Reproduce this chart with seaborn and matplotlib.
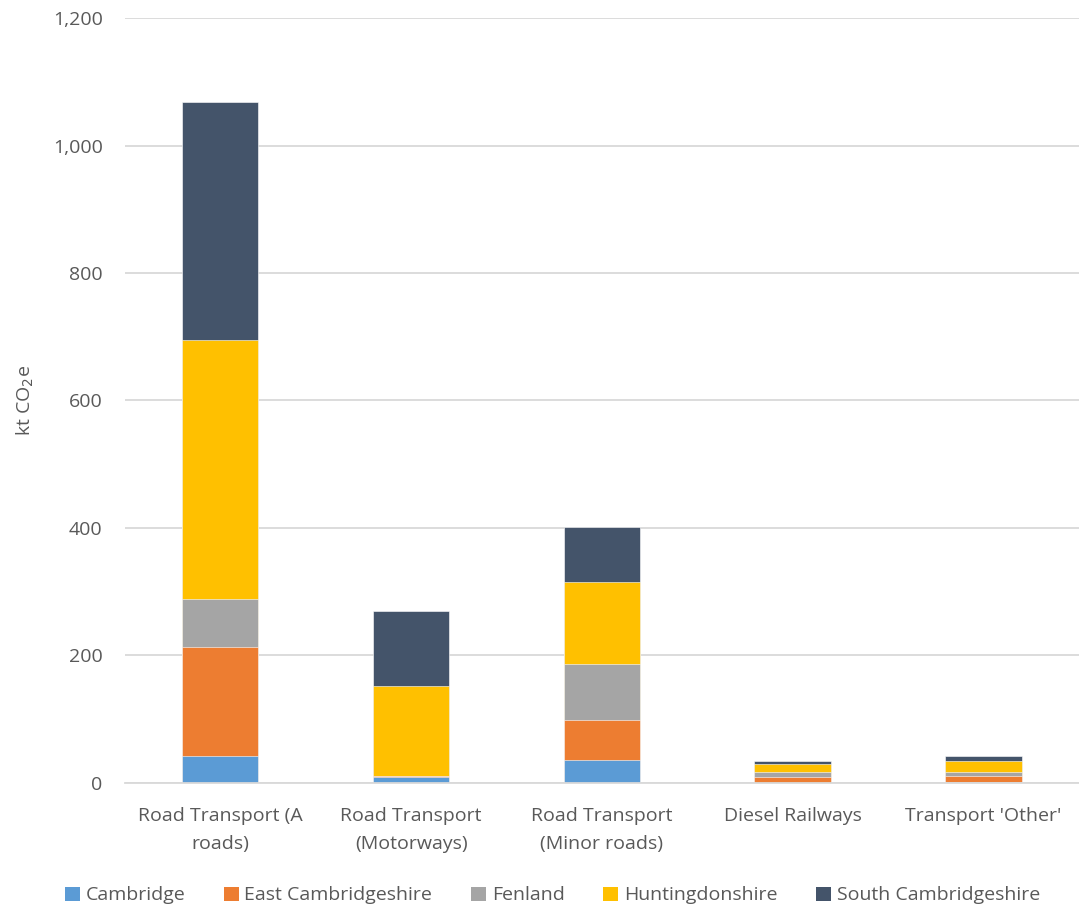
import matplotlib
matplotlib.use("Agg")
import matplotlib.pyplot as plt
import seaborn as sns
import pandas as pd
import numpy as np
from matplotlib.patches import Patch

categories = ["Road Transport (A\nroads)", "Road Transport\n(Motorways)", "Road Transport\n(Minor roads)",
              "Diesel Railways", "Transport 'Other'"]
cambridge = [43, 10, 36, 0.5, 1]
east_cambs = [170, 0.5, 63, 9, 10]
fenland = [75, 0.5, 87, 8, 6]
huntingdonshire = [407, 141, 129, 13, 17]
south_cambs = [373, 117, 86, 4, 8]

series_names = ["Cambridge", "East Cambridgeshire", "Fenland", "Huntingdonshire", "South Cambridgeshire"]
colors = ["#5B9BD5", "#ED7D31", "#A5A5A5", "#FFC000", "#44546A"]

sns.set_theme(style="white")
plt.rcParams['font.family'] = ['Open Sans', 'DejaVu Sans']

series = [cambridge, east_cambs, fenland, huntingdonshire, south_cambs]
cum = np.cumsum(np.array(series, dtype=float), axis=0)

fig = plt.figure(figsize=(10.79, 9.10), dpi=100)
ax = fig.add_axes([0.1158, 0.1396, 0.884, 0.8406])

for i in reversed(range(len(series))):
    df = pd.DataFrame({"cat": categories, "val": cum[i]})
    sns.barplot(data=df, x="cat", y="val", color=colors[i], width=0.4, ax=ax,
                saturation=1, edgecolor="white", linewidth=0.4, order=categories)

ax.set_ylim(0, 1200)
ax.set_yticks(range(0, 1201, 200))
ax.set_yticklabels([f"{v:,}" for v in range(0, 1201, 200)])
ax.set_xticks(range(len(categories)))
ax.set_xticklabels(categories, linespacing=1.75)
ax.yaxis.grid(True, color="#D9D9D9", linewidth=1.3)
ax.set_axisbelow(True)
for s in ["top", "right", "left"]:
    ax.spines[s].set_visible(False)
ax.spines["bottom"].set_color("#D9D9D9")
ax.spines["bottom"].set_linewidth(1.3)
ax.tick_params(axis="both", length=0, labelsize=14, colors="#595959")
ax.tick_params(axis="y", pad=16)
ax.tick_params(axis="x", pad=17)
ax.set_xlabel("")
ax.set_ylabel("kt CO$_2$e", fontsize=14, color="#595959", labelpad=12)

handles = [Patch(facecolor=c, edgecolor="none") for c in colors]
fig.legend(handles, series_names, loc="center", bbox_to_anchor=(0.512, 0.016), ncol=5,
           frameon=False, fontsize=14, handlelength=0.75, handleheight=0.75,
           columnspacing=2.0, handletextpad=0.3, labelcolor="#595959")

fig.savefig("out.png", dpi=100)
